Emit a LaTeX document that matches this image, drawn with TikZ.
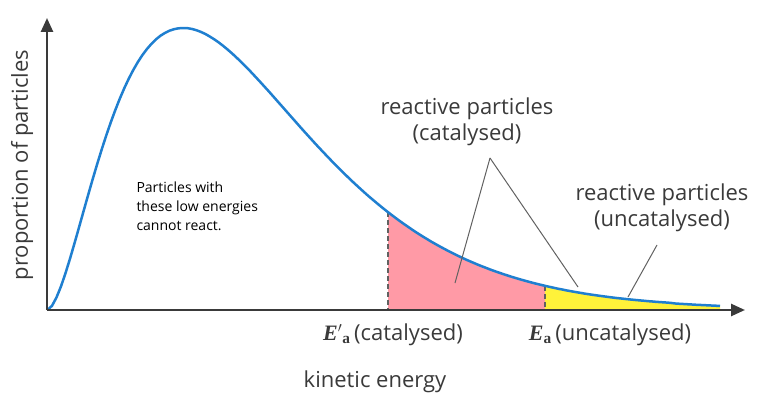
\documentclass[tikz,border=0pt]{standalone}
\usepackage{fontspec}
\setmainfont{Open Sans}
\usetikzlibrary{arrows.meta}
\definecolor{curveblue}{HTML}{1F7FD0}
\definecolor{pinkf}{HTML}{FF9AA6}
\definecolor{yellowf}{HTML}{FFF23A}
\definecolor{txt}{HTML}{3A3A3A}
\tikzset{
  lbl/.style={font=\fontsize{22}{26}\selectfont, text=txt, align=center},
  pointer/.style={draw=txt!80, line width=1pt},
  axis/.style={line width=2.5pt, draw=txt, -{Triangle[length=14pt,width=12pt]}},
  dashv/.style={dash pattern=on 5pt off 3pt, draw=txt!80, line width=1.2pt}
}
\begin{document}
\begin{tikzpicture}[x=1pt,y=-1pt]
\useasboundingbox (0,0) rectangle (773,409);
\def\f(#1){310-282*pow(((#1)-47)/136*exp(1-((#1)-47)/136),1.8)}
\fill[pinkf] (388,310) -- plot[domain=388:545,samples=40] (\x,{\f(\x)}) -- (545,310) -- cycle;
\fill[yellowf] (545,310) -- plot[domain=545:720,samples=40] (\x,{\f(\x)}) -- (720,310) -- cycle;
\coordinate (c1) at (388,{\f(388)});
\coordinate (c2) at (545,{\f(545)});
\draw[dashv] (c1) -- (388,310);
\draw[dashv] (c2) -- (545,310);
\draw[curveblue, line width=2.5pt] plot[domain=47.5:720,samples=150] (\x,{\f(\x)});
\coordinate (o) at (47,310);
\coordinate (ytop) at (47,18);
\coordinate (xend) at (745,310);
\draw[axis] (o) -- (ytop);
\draw[axis] (o) -- (xend);
\node[lbl, rotate=90] (ylab) at (22,165) {proportion of particles};
\node[lbl] (cat) at (467,122) {reactive particles\\(catalysed)};
\node[lbl] (uncat) at (662,208) {reactive particles\\(uncatalysed)};
\node[font=\fontsize{14}{19}\selectfont, align=left, anchor=north west] (low) at (133,178) {Particles with\\these low energies\\cannot react.};
\node[lbl, anchor=base] (ea1) at (393,340) {\fontspec{Liberation Serif}\bfseries\itshape E$'$\textsubscript{\upshape a}\,\fontspec{Open Sans}\normalfont(catalysed)};
\node[lbl, anchor=base] (ea2) at (610,340) {\fontspec{Liberation Serif}\bfseries\itshape E\textsubscript{\upshape a}\,\fontspec{Open Sans}\normalfont(uncatalysed)};
\node[lbl] (ke) at (375,382) {kinetic energy};
\coordinate (p1) at (455,283);
\coordinate (p2) at (578,287);
\coordinate (p3) at (628,297);
\draw[pointer] (490,158) -- (p1);
\draw[pointer] (490,158) -- (p2);
\draw[pointer] (657,245) -- (p3);
\end{tikzpicture}
\end{document}
